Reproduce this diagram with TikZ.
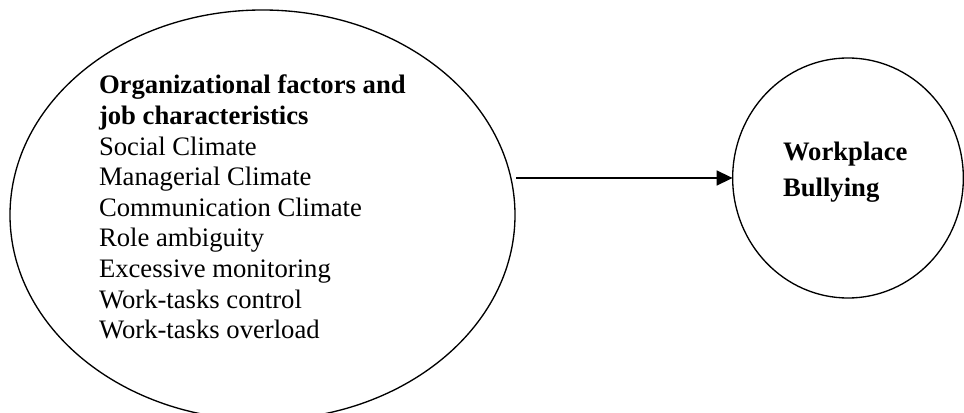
\documentclass[tikz,border=0pt]{standalone}
\usepackage{fontspec}
\setmainfont{Liberation Serif}
\usetikzlibrary{shapes.geometric,arrows.meta}
\begin{document}
\begin{tikzpicture}[x=0.75pt,y=-0.75pt,
  outline/.style={draw=black,line width=1pt,inner sep=0pt,outer sep=0pt,shape=ellipse},
  body/.style={inner sep=0pt,outer sep=0pt,align=left,font=\fontsize{20}{23}\selectfont,anchor=base west},
  conn/.style={line width=1.8pt,-{Triangle[length=12pt,width=11pt]}}]
\useasboundingbox (0,0) rectangle (964,413);
\node[outline,minimum width=378.75pt,minimum height=307.5pt] (ell) at (262.5,215) {};
\node[outline,minimum width=173pt,minimum height=180pt] (circ) at (848,178) {};
\node[body] (factors) at (99,339) {\textbf{Organizational factors and}\\\textbf{job characteristics}\\Social Climate\\Managerial Climate\\Communication Climate\\Role ambiguity\\Excessive monitoring\\Work-tasks control\\Work-tasks overload};
\node[body,font=\fontsize{20}{27}\selectfont\bfseries] (bully) at (783,197) {Workplace\\Bullying};
\coordinate (start) at (516,178);
\draw[conn] (start) -- (circ.west);
\end{tikzpicture}
\end{document}
